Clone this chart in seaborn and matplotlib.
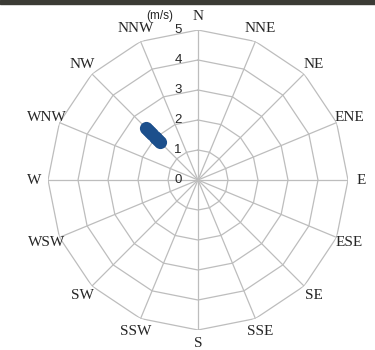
import numpy as np
import pandas as pd
import matplotlib
matplotlib.use("Agg")
import matplotlib.pyplot as plt
import matplotlib.transforms as mtransforms
import seaborn as sns

# 16 compass directions, clockwise from north
directions = ["N", "NNE", "NE", "ENE", "E", "ESE", "SE", "SSE",
              "S", "SSW", "SW", "WSW", "W", "WNW", "NW", "NNW"]
rings = [0, 1, 2, 3, 4, 5]

# observed wind samples (direction, speed m/s)
obs_dir = ["NW", "NW", "NW", "NW", "NW", "NW", "NW", "NW"]
obs_speed = [1.8, 1.9, 2.0, 2.05, 2.15, 2.25, 2.35, 2.45]

sns.set_style("white")
plt.rcParams["font.family"] = ["Liberation Serif", "DejaVu Serif"]

angle_of = {d: np.deg2rad(22.5 * i) for i, d in enumerate(directions)}
df = pd.DataFrame({"theta": [angle_of[d] for d in obs_dir], "speed": obs_speed})

fig = plt.figure(figsize=(3.75, 3.5), dpi=100)
fig.patch.set_facecolor("white")
ax = fig.add_axes([48 / 375, 20 / 350, 300 / 375, 300 / 350], projection="polar")
ax.set_theta_zero_location("N")
ax.set_theta_direction(-1)
ax.set_ylim(0, 5)
ax.grid(False)
ax.spines["polar"].set_visible(False)
ax.set_xticks([])
ax.set_yticks([])
ax.set_facecolor("white")

# polygon grid
th = np.array([angle_of[d] for d in directions] + [0.0])
for r in rings[1:]:
    ax.plot(th, [r] * len(th), color="#bdbdbd", lw=0.9, zorder=1)
for d in directions:
    ax.plot([angle_of[d], angle_of[d]], [0, 5], color="#bdbdbd", lw=0.9, zorder=1)

sns.scatterplot(data=df, x="theta", y="speed", ax=ax, color="#1c4f8c",
                s=90, edgecolor="#1c4f8c", linewidth=0, zorder=3, legend=False)
ax.set_xlabel("")
ax.set_ylabel("")

# direction labels
for d in directions:
    ax.text(angle_of[d], 5.45, d, ha="center", va="center", fontsize=11,
            color="#262626")

# speed tick labels along the north spoke
off = mtransforms.offset_copy(ax.transData, fig=fig, x=-20, y=0, units="dots")
for r in rings:
    ax.text(0, r, str(r), transform=off, ha="center", va="center",
            fontsize=9.5, family="Liberation Sans", color="#262626")

fig.text(160 / 375, 1 - 16 / 350, "(m/s)", ha="center", va="center",
         fontsize=8.5, family="Liberation Sans", color="#262626")

# dark strip along the top edge
fig.patches.append(plt.Rectangle((0, 1 - 4 / 350), 1, 4 / 350,
                                 transform=fig.transFigure, color="#3b3b35",
                                 zorder=10))

fig.savefig("out.png", dpi=100, facecolor="white")
